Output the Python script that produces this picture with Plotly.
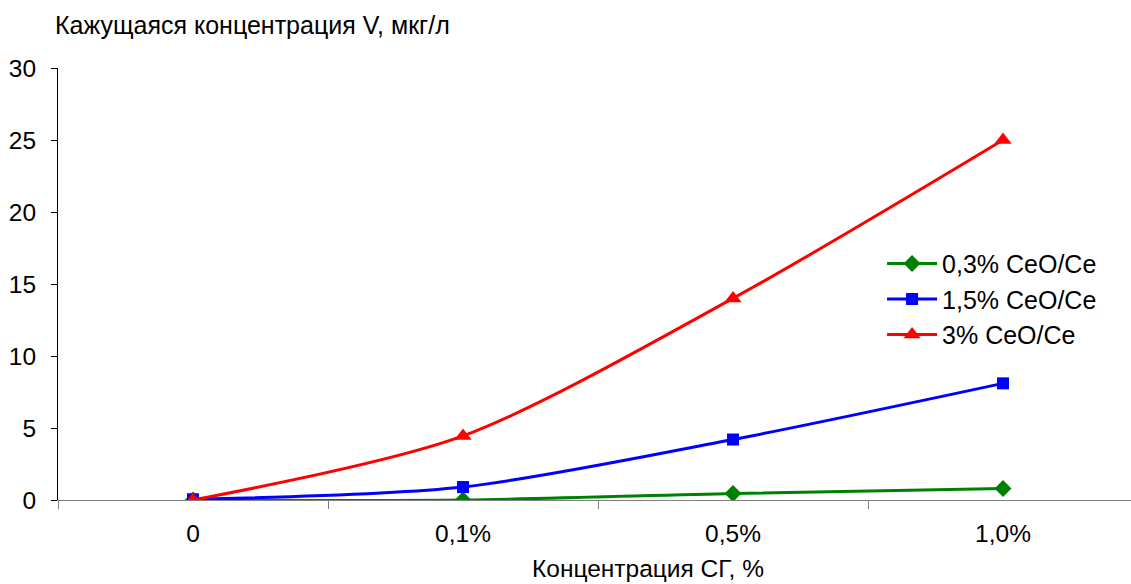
import plotly.graph_objects as go

categories = ["0", "0,1%", "0,5%", "1,0%"]
s_green = [0.0, 0.0, 0.45, 0.8]
s_blue = [0.05, 0.9, 4.2, 8.1]
s_red = [0.0, 4.45, 14.0, 25.0]
names = ["0,3% CeO/Ce", "1,5% CeO/Ce", "3% CeO/Ce"]
y_ticks = [0, 5, 10, 15, 20, 25, 30]

FONT = "Arial, Liberation Sans, sans-serif"

fig = go.Figure()
specs = [
    (s_green, names[0], "#008000", "diamond", 13),
    (s_blue, names[1], "#0000FF", "square", 12),
    (s_red, names[2], "#FF0000", "triangle-up", 15),
]
for ys, nm, col, sym, sz in specs:
    fig.add_trace(go.Scatter(
        x=categories, y=ys, name=nm, mode="lines+markers",
        line=dict(color=col, width=3, shape="spline", smoothing=0.8),
        marker=dict(symbol=sym, size=sz, color=col),
    ))

fig.update_layout(
    width=1131, height=584,
    margin=dict(l=58, r=0, t=68, b=84),
    paper_bgcolor="white", plot_bgcolor="white",
    font=dict(family=FONT, size=24.5, color="black"),
    showlegend=True,
    legend=dict(x=0.768, y=0.6, xanchor="left", yanchor="top",
                font=dict(size=25), bgcolor="rgba(0,0,0,0)",
                tracegroupgap=0, itemwidth=50),
    xaxis=dict(type="category", range=[-0.5, 3.474],
               showline=True, linecolor="#808080", linewidth=1,
               ticks="outside", tickson="boundaries", ticklen=8,
               tickcolor="#808080", showgrid=False, zeroline=False,
               ticklabelstandoff=12, tickfont=dict(size=24.5)),
    yaxis=dict(range=[0, 30], tickvals=y_ticks,
               showline=True, linecolor="black", linewidth=1,
               ticks="outside", ticklen=6, tickcolor="black",
               showgrid=False, zeroline=False,
               ticklabelstandoff=10, tickfont=dict(size=24.5)),
)

fig.add_annotation(text="Кажущаяся концентрация V, мкг/л", xref="paper", yref="paper",
                   x=0.0, y=1.0, yshift=43, xshift=-5, xanchor="left", yanchor="middle",
                   showarrow=False, font=dict(size=25))
fig.add_annotation(text="Концентрация СГ, %", xref="x", yref="paper",
                   x=1.685, y=0, yshift=-68, xanchor="center", yanchor="middle",
                   showarrow=False, font=dict(size=24.5))

fig.write_html("out.html")
